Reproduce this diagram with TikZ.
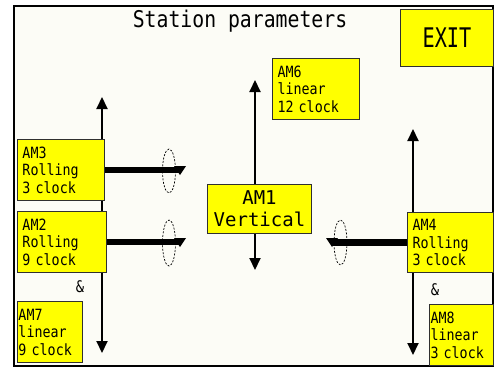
\documentclass[tikz,border=0pt]{standalone}
\usepackage{fontspec}
\usetikzlibrary{arrows.meta}
\newfontfamily\spmono{DejaVu Sans Mono}
\newfontfamily\spcond[FakeStretch=0.86]{DejaVu Sans Mono}
\newfontfamily\spexitfont[FakeStretch=0.75]{DejaVu Sans Mono}
\definecolor{spink}{HTML}{000000}
\definecolor{spedge}{HTML}{303030}
\definecolor{spyellow}{HTML}{FFFF00}
\definecolor{sppaper}{HTML}{FCFCF6}
\tikzset{
  sp frame/.style={draw=spink, line width=1.5pt, fill=sppaper},
  sp box/.style={draw=spedge, line width=1pt, fill=spyellow, anchor=north west,
    align=left, inner xsep=5pt, inner ysep=2pt, text=spink,
    font=\spcond\fontsize{15.5}{17.5}\selectfont},
  sp axis/.style={{Triangle[length=12pt,width=11pt]}-{Triangle[length=12pt,width=11pt]},
    draw=spink, line width=2pt},
  sp bar/.style={draw=spink, line width=6.5pt, line cap=butt},
  sp turn/.style={draw=spink, line width=0.7pt, dash pattern=on 2pt off 1.5pt},
  sp amp/.style={font=\spcond\fontsize{16}{18}\selectfont, text=spink}
}

\begin{document}
\begin{tikzpicture}[x=1pt, y=-1pt]
  \useasboundingbox (0,0) rectangle (499,367);
  \fill[white] (0,0) rectangle (499,367);
  \draw[sp frame] (14,6) rectangle (493,366);
  \node[font=\spcond\fontsize{23}{25}\selectfont] (title) at (240,21) {Station parameters};
  % linear travel
  \coordinate (l top) at (102,97);
  \coordinate (l bot) at (102,353);
  \coordinate (c top) at (255,80);
  \coordinate (c bot) at (255,270);
  \coordinate (r top) at (413,129);
  \coordinate (r bot) at (413,355);
  \draw[sp axis] (l top) -- (l bot);
  \draw[sp axis] (c top) -- (c bot);
  \draw[sp axis] (r top) -- (r bot);
  \node[sp box, align=center, minimum width=93pt, minimum height=57pt,
    font=\spexitfont\fontsize{27}{30}\selectfont] (exit) at (400,9) {EXIT};
  % the six motors round the station
  \node[sp box, text width=77pt, minimum height=61pt] (am6) at (272,58) {AM6\\linear\\12 clock};
  \node[sp box, align=center, text width=94pt, minimum height=49pt, inner ysep=0pt,
    font=\spmono\fontsize{19}{22}\selectfont] (am1) at (207,184) {AM1\\Vertical};
  \node[sp box, text width=77pt, minimum height=61pt] (am3) at (17,139) {AM3\\Rolling\\3 clock};
  \node[sp box, text width=79pt, minimum height=61pt] (am2) at (17,211) {AM2\\Rolling\\9 clock};
  \node[sp box, inner xsep=1pt, text width=63pt, minimum height=61pt] (am7) at (17,301) {AM7\\linear\\9 clock};
  \node[sp box, text width=76pt, minimum height=60pt] (am4) at (407,212) {AM4\\Rolling\\3 clock};
  \node[sp box, inner xsep=1pt, text width=62pt, minimum height=61pt] (am8) at (429,304) {AM8\\linear\\3 clock};
  \node[sp amp] (amp l) at (80,287) {\&};
  \node[sp amp] (amp r) at (435,290) {\&};
  % rolling
  \coordinate (t3) at (180,170);
  \coordinate (t2) at (180,242);
  \coordinate (t4) at (332,242);
  \draw[sp turn] (169,171) ellipse [x radius=6.5, y radius=22];
  \draw[sp turn] (169,243) ellipse [x radius=6.5, y radius=23];
  \draw[sp turn] (340.5,242.5) ellipse [x radius=6.5, y radius=22.5];
  \draw[sp bar] (am3.east) -- (am3.east -| t3);
  \draw[sp bar] (am2.east) -- (am2.east -| t2);
  \draw[sp bar] (am4.west) -- (am4.west -| t4);
  \fill[spink] ([shift={(-6,-4)}]t3) -- ++(12,0) -- ++(-6,9) -- cycle;
  \fill[spink] ([shift={(-6,-4)}]t2) -- ++(12,0) -- ++(-6,9) -- cycle;
  \fill[spink] ([shift={(-6,-4)}]t4) -- ++(12,0) -- ++(-6,9) -- cycle;
\end{tikzpicture}
\end{document}
